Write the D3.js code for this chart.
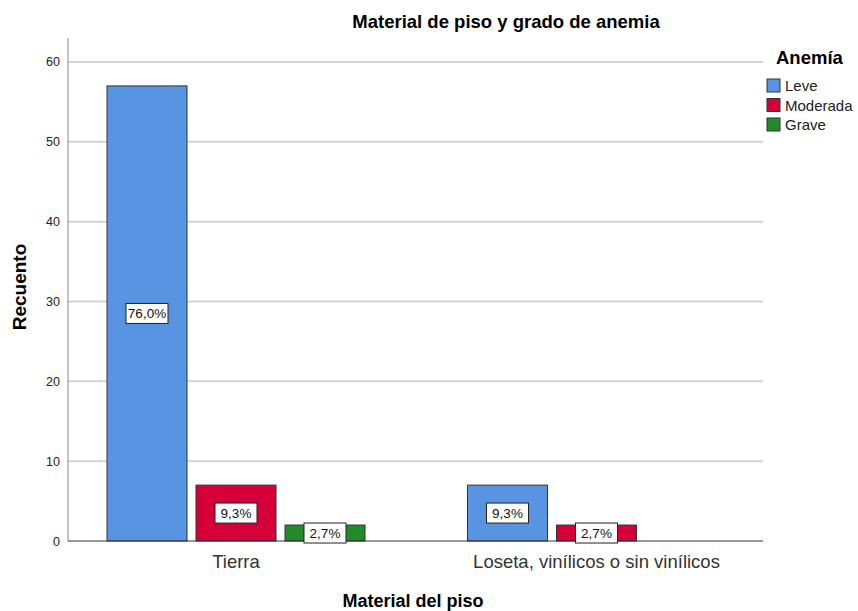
<!DOCTYPE html>
<html>
<head>
<meta charset="utf-8">
<script src="https://cdn.jsdelivr.net/npm/d3@7"></script>
<style>
body { margin: 0; background: #fff; }
text { font-family: Arial, "Liberation Sans", sans-serif; }
</style>
</head>
<body>
<div id="chart"></div>
<script>
// datos
var categorias = ["Tierra", "Loseta, vinílicos o sin vinílicos"];
var grupos = ["Leve", "Moderada", "Grave"];
var leve = [57, 7];
var moderada = [7, 2];
var grave = [2, 0];
var porcentajes = [["76,0%", "9,3%", "2,7%"], ["9,3%", "2,7%", null]];
var yTicks = [0, 10, 20, 30, 40, 50, 60];
var colores = ["#5994e3", "#d5003a", "#238a2a"];

var svg = d3.select("#chart").append("svg")
	.attr("width", 858)
	.attr("height", 611);

var y = d3.scaleLinear().domain([0, 63]).range([541, 38]);
var x = d3.scalePoint().domain(categorias).range([236, 596.5]);
var xg = d3.scaleBand().domain(grupos).range([-129, 129]).paddingInner(9 / 89);

// grid
svg.selectAll(".grid").data(yTicks.slice(1)).enter()
	.append("line")
	.attr("x1", 68).attr("x2", 763)
	.attr("y1", function(d){ return y(d); })
	.attr("y2", function(d){ return y(d); })
	.attr("stroke", "#d3d3d3")
	.attr("stroke-width", 2);

// eje y
var yAxis = svg.append("g")
	.attr("transform", "translate(68,0)")
	.call(d3.axisLeft(y).tickValues(yTicks).tickSize(0).tickPadding(8));
yAxis.select(".domain").attr("stroke", "#888").attr("d", "M0,38V541");
yAxis.selectAll("text").attr("font-size", 12.5).attr("fill", "#222")
	.attr("font-family", "Arial, 'Liberation Sans', sans-serif");

// barras
var filas = categorias.map(function(c, i){
	return [leve[i], moderada[i], grave[i]].map(function(v, j){
		return {cat: c, grupo: grupos[j], v: v, color: colores[j], lab: porcentajes[i][j]};
	});
});
var datos = [].concat.apply([], filas).filter(function(d){ return d.v > 0; });

svg.selectAll(".bar").data(datos).enter()
	.append("rect")
	.attr("x", function(d){ return x(d.cat) + xg(d.grupo); })
	.attr("y", function(d){ return y(d.v); })
	.attr("width", xg.bandwidth())
	.attr("height", function(d){ return y(0) - y(d.v); })
	.attr("fill", function(d){ return d.color; })
	.attr("stroke", "#333")
	.attr("stroke-width", 1);

// eje x
svg.append("line")
	.attr("x1", 68).attr("x2", 763)
	.attr("y1", 541).attr("y2", 541)
	.attr("stroke", "#333").attr("stroke-width", 1.2);

svg.selectAll(".xlab").data(categorias).enter()
	.append("text")
	.attr("x", function(d){ return x(d); })
	.attr("y", 568)
	.attr("text-anchor", "middle")
	.attr("font-size", 18.5)
	.attr("fill", "#333")
	.text(function(d){ return d; });

// etiquetas
var etiq = svg.selectAll(".lab").data(datos).enter()
	.append("g")
	.attr("transform", function(d){
		var cx = x(d.cat) + xg(d.grupo) + xg.bandwidth() / 2;
		var cy = (y(d.v) + y(0)) / 2;
		return "translate(" + cx + "," + cy + ")";
	});
etiq.append("rect")
	.attr("x", -21).attr("y", -10)
	.attr("width", 42).attr("height", 20)
	.attr("fill", "#fff")
	.attr("stroke", "#222");
etiq.append("text")
	.attr("text-anchor", "middle")
	.attr("dy", "0.36em")
	.attr("font-size", 13.5)
	.attr("fill", "#111")
	.text(function(d){ return d.lab; });

// titulos
svg.append("text")
	.attr("x", 506).attr("y", 28)
	.attr("text-anchor", "middle")
	.attr("font-size", 18.5).attr("font-weight", "bold")
	.text("Material de piso y grado de anemia");

svg.append("text")
	.attr("x", 413).attr("y", 607)
	.attr("text-anchor", "middle")
	.attr("font-size", 18).attr("font-weight", "bold")
	.text("Material del piso");

svg.append("text")
	.attr("transform", "translate(26,287) rotate(-90)")
	.attr("text-anchor", "middle")
	.attr("font-size", 19).attr("font-weight", "bold")
	.text("Recuento");

// leyenda
svg.append("text")
	.attr("x", 776).attr("y", 64)
	.attr("font-size", 18.5).attr("font-weight", "bold")
	.text("Anemía");

var ley = svg.selectAll(".ley").data(grupos).enter()
	.append("g")
	.attr("transform", function(d, i){ return "translate(767," + (79 + i * 19.5) + ")"; });
ley.append("rect")
	.attr("width", 13).attr("height", 13)
	.attr("fill", function(d, i){ return colores[i]; })
	.attr("stroke", "#333");
ley.append("text")
	.attr("x", 18).attr("y", 12)
	.attr("font-size", 15)
	.attr("fill", "#222")
	.text(function(d){ return d; });
</script>
</body>
</html>
